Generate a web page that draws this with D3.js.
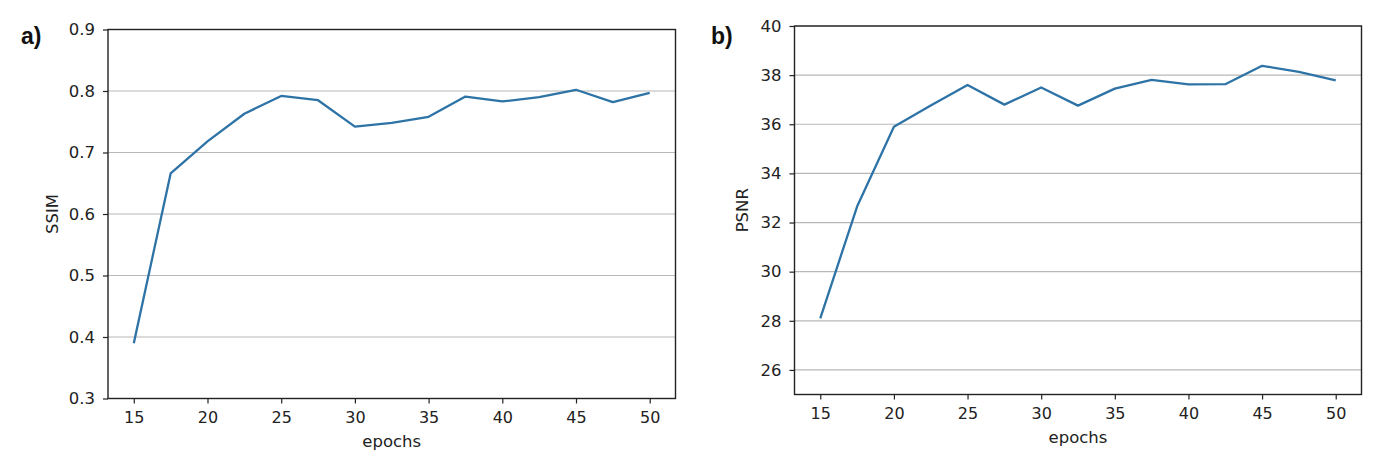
<!DOCTYPE html>
<html><head><meta charset="utf-8">
<script src="https://cdn.jsdelivr.net/npm/d3@7"></script>
<style>body{margin:0;background:#fff}svg{display:block}</style>
</head><body>
<svg id="c" width="1390" height="467"></svg>
<script>
const epochs = [15,17.5,20,22.5,25,27.5,30,32.5,35,37.5,40,42.5,45,47.5,50];
const ssim = [0.390,0.666,0.718,0.763,0.792,0.785,0.742,0.748,0.758,0.791,0.783,0.790,0.802,0.782,0.797];
const psnr = [28.1,32.65,35.9,36.76,37.6,36.8,37.5,36.76,37.45,37.81,37.62,37.63,38.38,38.13,37.79];
const xTicks = [15,20,25,30,35,40,45,50];
const ssimTicks = [0.3,0.4,0.5,0.6,0.7,0.8,0.9];
const psnrTicks = [26,28,30,32,34,36,38,40];

const svg = d3.select("#c");
const lineColor = "#2e73a6";
const font = "DejaVu Sans, sans-serif";

function panel(o){
  const g = svg.append("g");
  const x = d3.scaleLinear().domain([13.25,51.75]).range([o.l,o.r]);
  const y = d3.scaleLinear().domain(o.yDom).range([o.b,o.t]);
  g.selectAll(".grid").data(o.yTicks).join("line")
    .attr("x1",o.l).attr("x2",o.r)
    .attr("y1",d=>y(d)).attr("y2",d=>y(d))
    .attr("stroke","#b8b8b8").attr("stroke-width",1.2);
  g.append("path").datum(epochs.map((e,i)=>[e,o.vals[i]]))
    .attr("fill","none").attr("stroke",lineColor).attr("stroke-width",2.3)
    .attr("stroke-linejoin","round")
    .attr("d",d3.line().x(d=>x(d[0])).y(d=>y(d[1])));
  g.append("rect").attr("x",o.l).attr("y",o.t).attr("width",o.r-o.l).attr("height",o.b-o.t)
    .attr("fill","none").attr("stroke","#222").attr("stroke-width",1.4);
  const xa = g.append("g").attr("transform",`translate(0,${o.b})`)
    .call(d3.axisBottom(x).tickValues(xTicks).tickSize(5).tickPadding(8).tickFormat(d3.format("d")));
  xa.select(".domain").remove();
  xa.selectAll("line").attr("stroke","#222").attr("stroke-width",1.2);
  xa.selectAll("text").attr("font-family",font).attr("font-size",16).attr("fill","#222");
  const ya = g.append("g").attr("transform",`translate(${o.l},0)`)
    .call(d3.axisLeft(y).tickValues(o.yTicks).tickSize(5).tickPadding(8).tickFormat(o.fmt));
  ya.select(".domain").remove();
  ya.selectAll("line").attr("stroke","#222").attr("stroke-width",1.2);
  ya.selectAll("text").attr("font-family",font).attr("font-size",16.5).attr("fill","#222");
  g.append("text").attr("x",(o.l+o.r)/2).attr("y",o.b+48).attr("text-anchor","middle")
    .attr("font-family",font).attr("font-size",16.5).attr("fill","#222").text("epochs");
  g.append("text").attr("transform",`translate(${o.yl},${(o.t+o.b)/2}) rotate(-90)`)
    .attr("text-anchor","middle").attr("font-family",font)
    .attr("font-size",16.5).attr("fill","#222").text(o.ylabel);
  g.append("text").attr("x",o.px).attr("y",44).attr("font-family","Liberation Sans, Arial, sans-serif")
    .attr("font-weight","bold").attr("font-size",23).attr("fill","#111").text(o.tag);
}

panel({l:108,r:675.5,t:29.5,b:398.5,yDom:[0.3,0.9],yTicks:ssimTicks,vals:ssim,
  fmt:d3.format(".1f"),ylabel:"SSIM",yl:57.5,tag:"a)",px:21});
panel({l:794.5,r:1361.5,t:26,b:394.5,yDom:[25,40],yTicks:psnrTicks,vals:psnr,
  fmt:d3.format("d"),ylabel:"PSNR",yl:747.5,tag:"b)",px:711});
</script>
</body></html>
